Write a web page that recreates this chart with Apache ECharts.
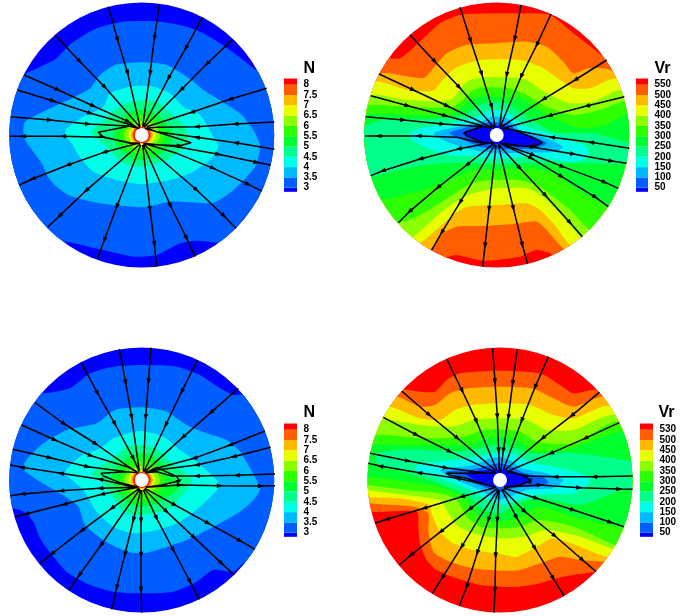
<!DOCTYPE html>
<html><head><meta charset="utf-8">
<style>html,body{margin:0;padding:0;background:#fff}#c{width:680px;height:616px}</style>
<script src="https://cdn.jsdelivr.net/npm/echarts@6/dist/echarts.min.js"></script>
</head><body><div id="c"></div>
<script>
// Band colours, low to high
const bandColors=['#0000ff','#005dff','#00baff','#00ffe8','#00ff8b','#00ff2e','#2eff00','#8bff00','#e8ff00','#ffba00','#ff5d00','#ff0000'];
const labelsN=['3','3.5','4','4.5','5','5.5','6','6.5','7','7.5','8'];
const labelsVrTop=['50','100','150','200','250','300','350','400','450','500','550'];
const labelsVrBottom=['50','100','150','200','250','300','350','400','450','500','530'];
const fullDisc=[[-420,-420],[420,-420],[420,420],[-420,420]];
const inner65=[[-40,0],[-28,-24],[0,-30],[28,-24],[42,0],[28,24],[0,30],[-28,24]];
const inner7=[[-33,0],[-23,-21],[0,-26],[23,-21],[34,0],[23,21],[0,26],[-23,21]];
const inner75=[[-28,0],[-20,-19],[0,-24],[20,-19],[29,0],[20,19],[0,24],[-20,19]];
const inner8=[[-25,0],[-17,-18],[0,-23],[17,-18],[25,0],[17,18],[0,23],[-17,18]];

// Contours in disc units (disc radius about 397), level by level
const topLeftN=[
[[-55,-340],[55,-340],[135,-325],[185,-305],[235,-275],[285,-240],[350,-190],[425,-145],[455,95],[295,335],[225,323],[165,317],[115,325],[45,360],[-25,365],[-125,343],[-225,320],[-305,315],[-455,95],[-455,-105],[-385,-165],[-350,-183],[-260,-227],[-210,-275],[-135,-320]],
[[-80,-210],[-125,-180],[-155,-140],[-200,-115],[-285,-75],[-350,-40],[-355,-10],[-350,15],[-300,85],[-275,135],[-220,180],[-125,205],[5,217],[85,200],[215,203],[275,165],[340,95],[355,35],[335,-15],[295,-65],[185,-135],[150,-165],[75,-210],[0,-218]],
[[-95,-125],[-115,-85],[-175,-55],[-225,-20],[-230,0],[-210,25],[-190,60],[-145,110],[-75,135],[0,147],[85,135],[145,115],[205,75],[230,35],[215,5],[175,-60],[125,-85],[85,-125],[35,-145],[-25,-147]],
[[-95,-60],[-75,-80],[-25,-102],[45,-100],[80,-70],[125,-30],[140,15],[105,55],[75,75],[5,95],[-55,85],[-105,35],[-140,5],[-150,-10],[-125,-35]],
[[-85,0],[-60,-50],[-30,-72],[15,-75],[55,-55],[85,-20],[92,15],[65,50],[30,70],[-15,75],[-50,60],[-75,30]],
[[-65,0],[-45,-40],[0,-60],[40,-42],[68,5],[45,42],[0,60],[-45,42]],
[[-52,0],[-35,-32],[0,-42],[35,-32],[55,2],[35,32],[0,40],[-35,32]],
inner65,inner7,inner75,inner8];

const topRightVr=[
[[-170,-335],[-110,-360],[-10,-365],[70,-365],[160,-360],[230,-305],[330,-225],[430,-100],[430,200],[230,420],[170,360],[120,345],[70,365],[-40,377],[-120,360],[-145,365],[-260,400],[-450,150],[-450,-100],[-400,-230],[-325,-230],[-290,-230],[-235,-275]],
[[-345,-185],[-220,-170],[-190,-200],[-150,-245],[-90,-270],[0,-275],[90,-280],[150,-265],[200,-220],[230,-185],[275,-200],[340,-195],[450,-100],[450,200],[300,400],[205,345],[150,285],[120,260],[50,267],[-40,273],[-120,275],[-160,295],[-195,340],[-300,400],[-450,100],[-450,-120]],
[[-362,-160],[-270,-135],[-190,-133],[-170,-155],[-125,-200],[-50,-225],[70,-225],[140,-200],[190,-165],[230,-140],[280,-140],[360,-170],[460,-100],[460,200],[330,400],[225,335],[170,265],[130,225],[90,205],[0,210],[-90,215],[-125,235],[-170,275],[-225,320],[-330,380],[-460,100],[-460,-100]],
[[-375,-120],[-270,-105],[-140,-105],[-90,-160],[-40,-173],[30,-173],[90,-165],[150,-125],[220,-95],[290,-100],[375,-135],[470,-60],[470,200],[320,380],[250,305],[180,225],[130,180],[90,160],[0,160],[-70,175],[-115,195],[-170,235],[-250,305],[-340,340],[-470,100],[-470,-60]],
[[-382,-90],[-270,-85],[-130,-85],[-70,-135],[-30,-143],[40,-140],[90,-120],[150,-85],[230,-60],[310,-75],[390,-100],[470,-50],[470,150],[340,330],[278,285],[220,225],[170,185],[120,150],[60,135],[0,135],[-60,140],[-110,165],[-170,205],[-240,245],[-295,263],[-400,260],[-470,100],[-470,-50]],
[[-392,-60],[-270,-60],[-140,-60],[-70,-110],[0,-115],[70,-110],[150,-60],[250,-20],[330,-30],[395,-60],[470,20],[470,300],[335,215],[250,170],[170,115],[100,100],[0,105],[-70,105],[-130,130],[-220,165],[-340,195],[-450,250],[-470,0]],
[[-395,-30],[-340,-45],[-190,-47],[-100,-60],[-40,-95],[30,-95],[90,-55],[170,-10],[290,-5],[395,25],[440,50],[395,85],[275,85],[170,85],[70,85],[0,88],[-70,85],[-170,85],[-300,105],[-375,125],[-450,100],[-440,-30]],
[[-265,0],[-230,-20],[-140,-35],[-50,-60],[-20,-75],[30,-70],[80,-30],[190,5],[270,35],[275,65],[230,80],[90,65],[0,73],[-70,65],[-150,60],[-230,30]],
[[-190,-5],[-140,-20],[-50,-40],[-10,-55],[30,-50],[70,-15],[150,10],[198,35],[180,50],[90,53],[0,55],[-70,45],[-150,20]],
[[-142,-5],[-100,-20],[-40,-35],[-5,-38],[35,-32],[60,-15],[110,5],[150,25],[120,38],[60,42],[0,42],[-50,35],[-100,15]],
[[-102,-5],[-60,-20],[-30,-28],[0,-28],[30,-25],[60,-8],[100,5],[135,23],[100,33],[40,30],[0,28],[-40,22],[-75,8]]];

const bottomLeftN=[
[[-300,-260],[-215,-275],[-155,-320],[-85,-340],[5,-345],[105,-340],[175,-315],[235,-275],[275,-255],[305,-255],[420,-150],[420,150],[370,280],[310,248],[275,275],[215,270],[165,305],[95,335],[0,340],[-85,335],[-155,315],[-220,280],[-265,230],[-305,175],[-325,125],[-355,95],[-385,85],[-450,50],[-450,-150],[-380,-280]],
[[-135,-170],[-80,-210],[0,-218],[75,-205],[135,-165],[195,-140],[255,-120],[295,-85],[355,25],[335,60],[295,95],[225,135],[135,180],[15,218],[-45,215],[-115,180],[-170,135],[-190,80],[-245,40],[-305,5],[-353,-30],[-350,-55],[-295,-110],[-225,-150]],
[[-230,-25],[-185,-70],[-125,-95],[-85,-125],[-5,-147],[65,-130],[115,-90],[165,-55],[225,0],[233,20],[175,80],[115,125],[45,150],[-25,160],[-85,140],[-135,95],[-175,30],[-215,-5]],
[[-150,-20],[-85,-65],[-45,-100],[5,-105],[50,-90],[85,-55],[150,0],[125,40],[85,85],[5,105],[-55,95],[-90,45],[-125,0]],
[[-90,-10],[-60,-55],[-20,-78],[25,-78],[60,-50],[95,-10],[115,15],[80,50],[35,75],[-10,80],[-50,65],[-75,30]],
[[-65,0],[-45,-42],[0,-62],[40,-45],[72,5],[45,45],[0,62],[-45,45]],
[[-52,0],[-35,-32],[0,-42],[35,-32],[55,2],[35,32],[0,40],[-35,32]],
inner65,inner7,inner75,inner8];

const bottomRightVr=[
[[-290,-272],[-240,-265],[-195,-265],[-160,-300],[-120,-320],[0,-328],[120,-320],[180,-285],[220,-260],[290,-270],[420,-200],[440,100],[400,250],[285,275],[220,285],[170,295],[120,310],[60,320],[0,320],[-60,315],[-130,295],[-190,270],[-220,240],[-240,190],[-245,140],[-250,95],[-385,95],[-460,60],[-460,-120],[-400,-280]],
[[-308,-250],[-240,-220],[-195,-225],[-150,-260],[-95,-275],[0,-280],[95,-275],[160,-245],[220,-220],[315,-250],[430,-150],[440,100],[400,250],[310,245],[240,240],[180,230],[120,250],[60,270],[0,272],[-80,265],[-150,245],[-200,215],[-215,150],[-215,100],[-260,80],[-390,70],[-460,40],[-460,-120],[-400,-250]],
[[-330,-220],[-240,-185],[-180,-180],[-135,-210],[-80,-225],[0,-230],[90,-225],[160,-195],[220,-185],[330,-222],[450,-100],[450,100],[420,230],[320,230],[240,200],[160,175],[110,200],[50,230],[0,222],[-80,210],[-140,190],[-180,155],[-205,100],[-210,75],[-300,55],[-395,50],[-460,20],[-460,-100],[-420,-220]],
[[-355,-185],[-240,-165],[-140,-160],[-80,-180],[0,-185],[80,-180],[140,-150],[220,-150],[345,-195],[450,-80],[450,100],[410,220],[335,205],[240,170],[140,150],[70,170],[0,175],[-80,160],[-130,135],[-160,90],[-180,60],[-280,45],[-395,30],[-460,10],[-460,-100],[-420,-190]],
[[-375,-135],[-230,-125],[-110,-130],[-50,-150],[0,-152],[60,-145],[110,-115],[220,-110],[355,-175],[450,-60],[450,100],[400,210],[345,195],[220,140],[120,120],[60,140],[0,145],[-60,140],[-100,110],[-130,60],[-180,40],[-280,30],[-395,15],[-460,0],[-460,-100]],
[[-385,-105],[-280,-105],[-100,-105],[-50,-120],[0,-130],[50,-120],[110,-85],[220,-95],[370,-145],[450,-60],[450,100],[375,140],[220,110],[120,80],[60,110],[0,125],[-50,115],[-80,90],[-110,50],[-180,20],[-395,-10],[-450,0],[-450,-80]],
[[-370,-80],[-280,-92],[-130,-85],[-60,-95],[0,-105],[50,-95],[90,-80],[220,-80],[395,-55],[440,-20],[440,50],[390,25],[240,75],[120,55],[60,70],[0,100],[-50,90],[-100,45],[-240,-10],[-370,-50]],
[[-250,-45],[-140,-60],[-50,-75],[0,-85],[50,-75],[90,-55],[160,-40],[270,-10],[265,15],[220,40],[110,45],[0,75],[-50,55],[-90,30],[-180,-5],[-250,-25]],
[[-180,-30],[-80,-45],[-30,-65],[0,-70],[30,-60],[65,-35],[140,-20],[190,0],[160,25],[80,30],[0,58],[-60,30],[-130,0]],
[[-160,-25],[-80,-32],[-30,-45],[0,-50],[30,-42],[70,-22],[130,-8],[145,8],[110,20],[50,22],[0,35],[-50,20],[-110,-5]],
[[-105,-20],[-60,-28],[-20,-30],[20,-30],[60,-15],[90,-5],[92,5],[60,15],[20,18],[-20,18],[-60,8]]];

// Field lines in flow direction; a third element 1 marks an arrowhead
const topLeftLines=[
[[-100,-385],[-72,-285,1],[-42,-185,1],[-5,-25]],
[[53,-393],[38,-290,1],[25,-185,1],[3,-25]],
[[182,-353],[132,-260,1],[80,-170,1],[5,-25]],
[[273,-287],[195,-213,1],[118,-135,1],[7,-23]],
[[375,-140],[265,-107,1],[150,-68,1],[15,-25]],
[[398,-39],[280,-33,1],[165,-25,1],[45,-23],[12,-20]],
[[-260,-300],[-185,-220,1],[-110,-143,1],[-5,-23]],
[[-353,-180],[-250,-135,1],[-145,-87,1],[-40,-40,1],[-10,-20]],
[[-373,-135],[-265,-102,1],[-153,-65,1],[-40,-33],[-7,-20]],
[[-392,-55],[-275,-45,1],[-160,-33,1],[-40,-27],[-10,-20]],
[[-5,25],[-35,23],[-115,7],[-237,4,1],[-357,4,1],[-395,4]],
[[-7,-20],[-35,-27],[-130,-8],[-117,5,1],[-35,25],[-5,25]],
[[398,43],[282,23,1],[165,7,1],[45,-10],[15,-20]],
[[5,28],[115,32,1],[148,23],[45,-10],[10,-20]],
[[5,25],[105,35],[230,58,1],[345,82,1],[387,90]],
[[5,25],[105,55],[215,100,1],[320,148,1],[360,168]],
[[5,27],[165,165,1],[247,243,1],[283,280]],
[[5,30],[87,213,1],[135,310,1],[160,365]],
[[3,30],[25,223,1],[38,328,1],[45,395]],
[[-3,30],[-75,215,1],[-112,315,1],[-133,373]],
[[-5,27],[-167,167,1],[-247,243,1],[-282,277]],
[[-10,25],[-113,52,1],[-222,90,1],[-328,132,1],[-367,150]]];

const topRightLines=[
[[-110,-383],[-78,-283,1],[-45,-183,1],[-15,-85,1],[-5,-23]],
[[73,-390],[54,-288,1],[30,-180,1],[8,-23]],
[[163,-363],[120,-270,1],[73,-175,1],[10,-23]],
[[330,-225],[235,-165,1],[140,-107,1],[15,-25]],
[[383,-115],[270,-87,1],[157,-58,1],[20,-20]],
[[-260,-300],[-185,-220,1],[-112,-143,1],[-10,-25]],
[[-353,-183],[-250,-135,1],[-148,-87,1],[-40,-35],[-10,-20]],
[[-378,-118],[-267,-88,1],[-153,-58,1],[-40,-27],[-8,-20]],
[[-393,-55],[-280,-45,1],[-162,-33,1],[-40,-25],[-8,-20]],
[[-10,25],[-50,23],[-120,7],[-235,3,1],[-355,3,1],[-395,3]],
[[-8,-20],[-40,-27],[-98,-7],[-90,3],[-40,23],[-10,25]],
[[398,40],[282,22,1],[165,7,1],[50,-15],[20,-20]],
[[10,25],[60,33],[115,33,1],[137,23],[115,10],[50,-15],[15,-20]],
[[10,25],[110,37,1],[230,57,1],[345,78,1],[390,85]],
[[10,25],[110,60,1],[198,95,1],[325,142,1],[365,160]],
[[10,25],[105,70,1],[195,125,1],[297,187,1],[335,215]],
[[5,28],[70,100,1],[147,182,1],[220,263,1],[257,305]],
[[5,30],[50,220,1],[77,330,1],[93,387]],
[[-2,30],[-23,223,1],[-35,332,1],[-42,395]],
[[-5,28],[-110,202,1],[-165,293,1],[-195,345]],
[[-8,25],[-90,90,1],[-177,158,1],[-262,230,1],[-295,263]],
[[-10,22],[-115,42,1],[-230,72,1],[-343,108,1],[-378,122]]];

const bottomLeftLines=[
[[-182,-353],[-132,-260,1],[-80,-168,1],[-25,-65,1],[-7,-25]],
[[-67,-393],[-48,-292,1],[-30,-188,1],[-7,-25]],
[[28,-397],[20,-295,1],[12,-188,1],[5,-25]],
[[167,-360],[120,-265,1],[72,-165,1],[7,-25]],
[[290,-275],[207,-202,1],[123,-128,1],[10,-25]],
[[370,-147],[265,-105,1],[157,-65,1],[45,-35],[10,-22]],
[[387,-98],[275,-70,1],[165,-45,1],[45,-30],[12,-22]],
[[-320,-232],[-232,-168,1],[-137,-108,1],[-40,-40],[-10,-22]],
[[-360,-165],[-260,-120,1],[-152,-73,1],[-40,-38],[-10,-22]],
[[-387,-92],[-275,-67,1],[-162,-40,1],[-45,-25],[-10,-22]],
[[-10,25],[-60,13],[-125,-2,1],[-243,-20,1],[-360,-38,1],[-395,-45]],
[[-10,-22],[-45,-25],[-122,-20],[-115,-12],[-65,8],[-15,20]],
[[-10,22],[-125,25,1],[-242,32,1],[-358,42,1],[-395,47]],
[[-10,22],[-120,43,1],[-232,73,1],[-347,102,1],[-380,110]],
[[-7,25],[-90,85,1],[-180,152,1],[-270,222,1],[-305,250]],
[[-5,27],[-122,195,1],[-187,285,1],[-218,330]],
[[-3,30],[-25,120,1],[-50,222,1],[-75,323,1],[-90,388]],
[[0,30],[-2,122,1],[-2,225,1],[-2,330,1],[0,398]],
[[5,30],[45,115,1],[95,210,1],[145,305,1],[173,358]],
[[7,27],[75,95,1],[157,172,1],[240,250,1],[278,285]],
[[10,25],[100,75,1],[200,130,1],[297,183,1],[340,208]],
[[12,22],[115,15,1],[235,17,1],[358,18,1],[400,17]],
[[12,22],[60,15],[113,2,1],[105,-10],[45,-38],[12,-22]],
[[400,-18],[285,-14,1],[165,-12,1],[90,-12],[45,-25],[12,-22]]];

const bottomRightLines=[
[[-160,-363],[-113,-267,1],[-70,-175,1],[-10,-30]],
[[-22,-395],[-15,-295,1],[-8,-190,1],[-4,-88,1],[-2,-25]],
[[52,-393],[38,-290,1],[25,-188,1],[10,-88,1],[2,-25]],
[[145,-370],[105,-278,1],[65,-178,1],[10,-30]],
[[298,-263],[215,-193,1],[127,-125,1],[15,-30]],
[[358,-172],[255,-125,1],[152,-80,1],[20,-25]],
[[-295,-267],[-212,-195,1],[-127,-125,1],[-15,-30]],
[[-350,-188],[-250,-135,1],[-150,-85,1],[-40,-35],[-15,-25]],
[[-390,-80],[-275,-57,1],[-162,-37,1],[-40,-20],[-15,-22]],
[[-12,22],[-40,15],[-128,-5,1],[-243,-22,1],[-360,-42,1],[-395,-50]],
[[-15,-22],[-40,-20],[-125,-20],[-162,-20],[-150,-14],[-100,-5],[-40,15],[-12,22]],
[[-12,22],[-115,50,1],[-228,85,1],[-340,118,1],[-375,130]],
[[-8,25],[-92,88,1],[-178,155,1],[-267,225,1],[-302,255]],
[[-5,28],[-60,110],[-115,200,1],[-173,293,1],[-203,340]],
[[-3,30],[-35,120,1],[-68,218,1],[-100,320,1],[-122,378]],
[[-2,30],[-8,120,1],[-13,227,1],[-15,330,1],[-18,398]],
[[5,28],[50,113,1],[105,205,1],[160,295,1],[192,348]],
[[8,27],[75,95,1],[165,168,1],[248,240,1],[288,275]],
[[12,25],[110,55,1],[220,90,1],[332,127,1],[372,140]],
[[398,-12],[282,-10,1],[165,-10,1],[85,-12],[20,-25]],
[[12,22],[120,15,1],[238,23,1],[358,27,1],[398,28]],
[[12,22],[60,15],[92,2,1],[75,-10],[35,-25],[15,-25]]];

const panels=[
 {contours:topLeftN,lines:topLeftLines,cx:141.7,cy:135,rising:true,labels:labelsN,title:'N',barX:284,barW:13,barTop:74.4,titleX:303.5,titleY:61},
 {contours:topRightVr,lines:topRightLines,cx:496.7,cy:135,rising:false,labels:labelsVrTop,title:'Vr',barX:636,barW:12,barTop:74.4,titleX:654.5,titleY:61},
 {contours:bottomLeftN,lines:bottomLeftLines,cx:141.7,cy:480,rising:true,labels:labelsN,title:'N',barX:284,barW:13,barTop:419.4,titleX:303.5,titleY:405},
 {contours:bottomRightVr,lines:bottomRightLines,cx:500,cy:480,rising:false,labels:labelsVrBottom,title:'Vr',barX:640,barW:13,barTop:419.4,titleX:658.5,titleY:405}
];
const R=132.5,axisR=397.5,unit=10.3;
const grid=[],xAxis=[],yAxis=[],series=[],title=[];
function polySeries(verts,color,g,smooth){
 return {type:'custom',coordinateSystem:'cartesian2d',xAxisIndex:g,yAxisIndex:g,data:verts,encode:{x:0,y:1},silent:true,z:2,clip:false,animation:false,
  renderItem:(p,api)=>{
   if(p.dataIndex!==0)return null;
   const c=api.coord([0,0]);const r=api.size([axisR,0])[0];
   return {type:'polygon',shape:{points:verts.map(v=>api.coord(v)),smooth:smooth},style:{fill:color,stroke:null},
    clipPath:{type:'circle',shape:{cx:c[0],cy:c[1],r:r}}};
  }};
}
function lineData(lines){
 const out=[];
 lines.forEach(l=>{
  l.forEach((pt,i)=>{
   const a=l[Math.max(i-1,0)],b=l[Math.min(i+1,l.length-1)];
   const heading=Math.atan2(b[0]-a[0],-(b[1]-a[1]))*180/Math.PI;
   out.push({value:[pt[0],pt[1]],symbol:pt[2]?'triangle':'none',symbolSize:[4.5,6.5],symbolRotate:-heading});
  });
  out.push({value:['-','-'],symbol:'none'});
 });
 return out;
}
panels.forEach((p,k)=>{
 const g=k*2;
 grid.push({left:p.cx-R,top:p.cy-R,width:2*R,height:2*R,containLabel:false});
 xAxis.push({gridIndex:g,type:'value',min:-axisR,max:axisR,show:false});
 yAxis.push({gridIndex:g,type:'value',min:-axisR,max:axisR,inverse:true,show:false});
 series.push(polySeries(fullDisc,p.rising?bandColors[0]:bandColors[11],g,0));
 p.contours.forEach((c,i)=>series.push(polySeries(c,p.rising?bandColors[i+1]:bandColors[10-i],g,0.22)));
 series.push({type:'scatter',xAxisIndex:g,yAxisIndex:g,data:[[0,0]],symbol:'circle',symbolSize:14,itemStyle:{color:'#fff',opacity:1},silent:true,z:3,animation:false});
 series.push({type:'line',xAxisIndex:g,yAxisIndex:g,data:lineData(p.lines),connectNulls:false,showSymbol:true,showAllSymbol:true,clip:false,
  lineStyle:{color:'#000',width:1.5},itemStyle:{color:'#000',opacity:1},silent:true,z:4,animation:false});
 // colour bar
 const h=g+1;
 grid.push({left:p.barX,top:p.barTop,width:p.barW,height:12*unit});
 xAxis.push({gridIndex:h,type:'category',data:['bar'],show:false});
 yAxis.push({gridIndex:h,type:'value',min:0,max:12,interval:1,position:'right',splitLine:{show:false},axisLine:{show:false},axisTick:{show:false},
  axisLabel:{margin:6.5,color:'#000',fontFamily:'Liberation Sans',fontWeight:'bold',fontSize:10,formatter:v=>p.labels[v-1]||'',showMinLabel:false,showMaxLabel:false}});
 const stack='bar'+k;
 series.push({type:'bar',xAxisIndex:h,yAxisIndex:h,stack,barWidth:'100%',data:[0.6],itemStyle:{color:'transparent'},silent:true,animation:false});
 bandColors.forEach((col,i)=>series.push({type:'bar',xAxisIndex:h,yAxisIndex:h,stack,barWidth:'100%',data:[i===0?0.4:i===11?0.6:1],itemStyle:{color:col},silent:true,animation:false}));
 title.push({text:p.title,left:p.titleX,top:p.titleY,padding:0,textStyle:{fontFamily:'Liberation Sans',fontWeight:'bold',fontSize:16,color:'#000'}});
});
const chart=echarts.init(document.getElementById('c'),null,{renderer:'canvas'});
chart.setOption({animation:false,backgroundColor:'#fff',title,grid,xAxis,yAxis,series,tooltip:{show:false},legend:{show:false}});
</script></body></html>
